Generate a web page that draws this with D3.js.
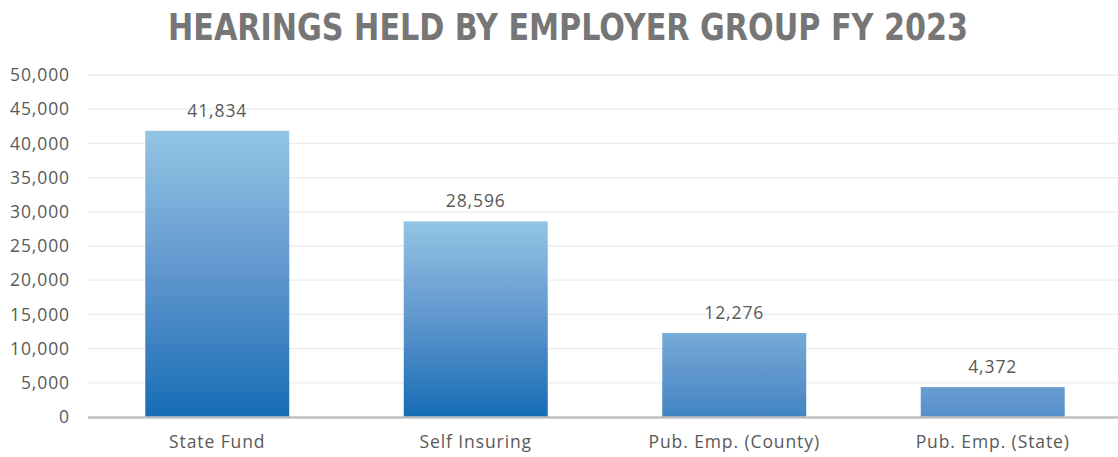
<!DOCTYPE html>
<html>
<head>
<meta charset="utf-8">
<script src="https://cdn.jsdelivr.net/npm/d3@7"></script>
<style>
  html, body { margin: 0; padding: 0; background: #fff; }
  svg { display: block; }
</style>
</head>
<body>
<svg id="chart" width="1118" height="457"></svg>
<script>
// Hearings per employer group
const categories = ["State Fund", "Self Insuring", "Pub. Emp. (County)", "Pub. Emp. (State)"];
const hearings = [41834, 28596, 12276, 4372];
const yTicks = [0, 5000, 10000, 15000, 20000, 25000, 30000, 35000, 40000, 45000, 50000];
const title = "HEARINGS HELD BY EMPLOYER GROUP FY 2023";

const W = 1118, H = 457;
const svg = d3.select("#chart");
const fontFamily = "'Open Sans', 'Noto Sans', sans-serif";
const labelSize = 17.5;
const labelSpacing = 0.9;

const x = d3.scaleBand().domain(categories).range([88, 1122]).paddingInner(0.443).paddingOuter(0.2215);
const y = d3.scaleLinear().domain([0, 50000]).range([417, 75]);

// Gradient per bar: tall bars span the full light-to-dark ramp, short bars a narrower middle slice
const ramp = d3.interpolateRgbBasis(["#92c5e4", "#6395cd", "#156db5"]);
const refHeight = y(0) - y(28596);
const defs = svg.append("defs");
hearings.forEach((v, i) => {
  const h = y(0) - y(v);
  const r = Math.min(1, h / refHeight);
  const g = defs.append("linearGradient")
    .attr("id", "barGrad" + i)
    .attr("x1", 0).attr("y1", 0).attr("x2", 0).attr("y2", 1);
  d3.range(0, 1.0001, 0.1).forEach(s => {
    g.append("stop")
      .attr("offset", s)
      .attr("stop-color", ramp(0.5 - r / 2 + s * r));
  });
});

// Horizontal gridlines
svg.append("g")
  .selectAll("line")
  .data(yTicks.filter(t => t > 0))
  .join("line")
  .attr("x1", 88).attr("x2", W)
  .attr("y1", d => y(d)).attr("y2", d => y(d))
  .attr("stroke", "#ececec")
  .attr("stroke-width", 1.3);

// Y axis labels
const yAxis = svg.append("g")
  .attr("transform", "translate(70,0)")
  .call(d3.axisLeft(y).tickValues(yTicks).tickFormat(d3.format(",")).tickSize(0).tickPadding(0));
yAxis.select(".domain").remove();
yAxis.selectAll("text")
  .attr("font-family", fontFamily)
  .attr("font-size", labelSize)
  .attr("letter-spacing", labelSpacing)
  .attr("fill", "#595959");

// Bars
svg.append("g")
  .selectAll("rect")
  .data(hearings)
  .join("rect")
  .attr("x", (d, i) => x(categories[i]))
  .attr("width", x.bandwidth())
  .attr("y", d => y(d))
  .attr("height", d => y(0) - y(d))
  .attr("fill", (d, i) => `url(#barGrad${i})`);

// Baseline
svg.append("line")
  .attr("x1", 88).attr("x2", W)
  .attr("y1", y(0) + 0.5).attr("y2", y(0) + 0.5)
  .attr("stroke", "#bfbfbf")
  .attr("stroke-width", 2.5);

// Value labels
svg.append("g")
  .selectAll("text")
  .data(hearings)
  .join("text")
  .attr("x", (d, i) => x(categories[i]) + x.bandwidth() / 2)
  .attr("y", d => y(d) - 14)
  .attr("text-anchor", "middle")
  .attr("font-family", fontFamily)
  .attr("font-size", labelSize)
  .attr("letter-spacing", labelSpacing)
  .attr("fill", "#595959")
  .text(d => d3.format(",")(d));

// Category labels
const xAxis = svg.append("g")
  .attr("transform", `translate(0,${y(0)})`)
  .call(d3.axisBottom(x).tickSize(0).tickPadding(19));
xAxis.select(".domain").remove();
xAxis.selectAll("text")
  .attr("font-family", fontFamily)
  .attr("font-size", labelSize)
  .attr("letter-spacing", labelSpacing)
  .attr("fill", "#595959");

// Title
svg.append("text")
  .attr("x", 568)
  .attr("y", 40)
  .attr("text-anchor", "middle")
  .attr("font-family", "'DejaVu Sans Condensed', 'Open Sans', sans-serif")
  .attr("font-weight", "bold")
  .attr("font-size", 38)
  .attr("textLength", 800)
  .attr("lengthAdjust", "spacingAndGlyphs")
  .attr("fill", "#767676")
  .text(title);
</script>
</body>
</html>
